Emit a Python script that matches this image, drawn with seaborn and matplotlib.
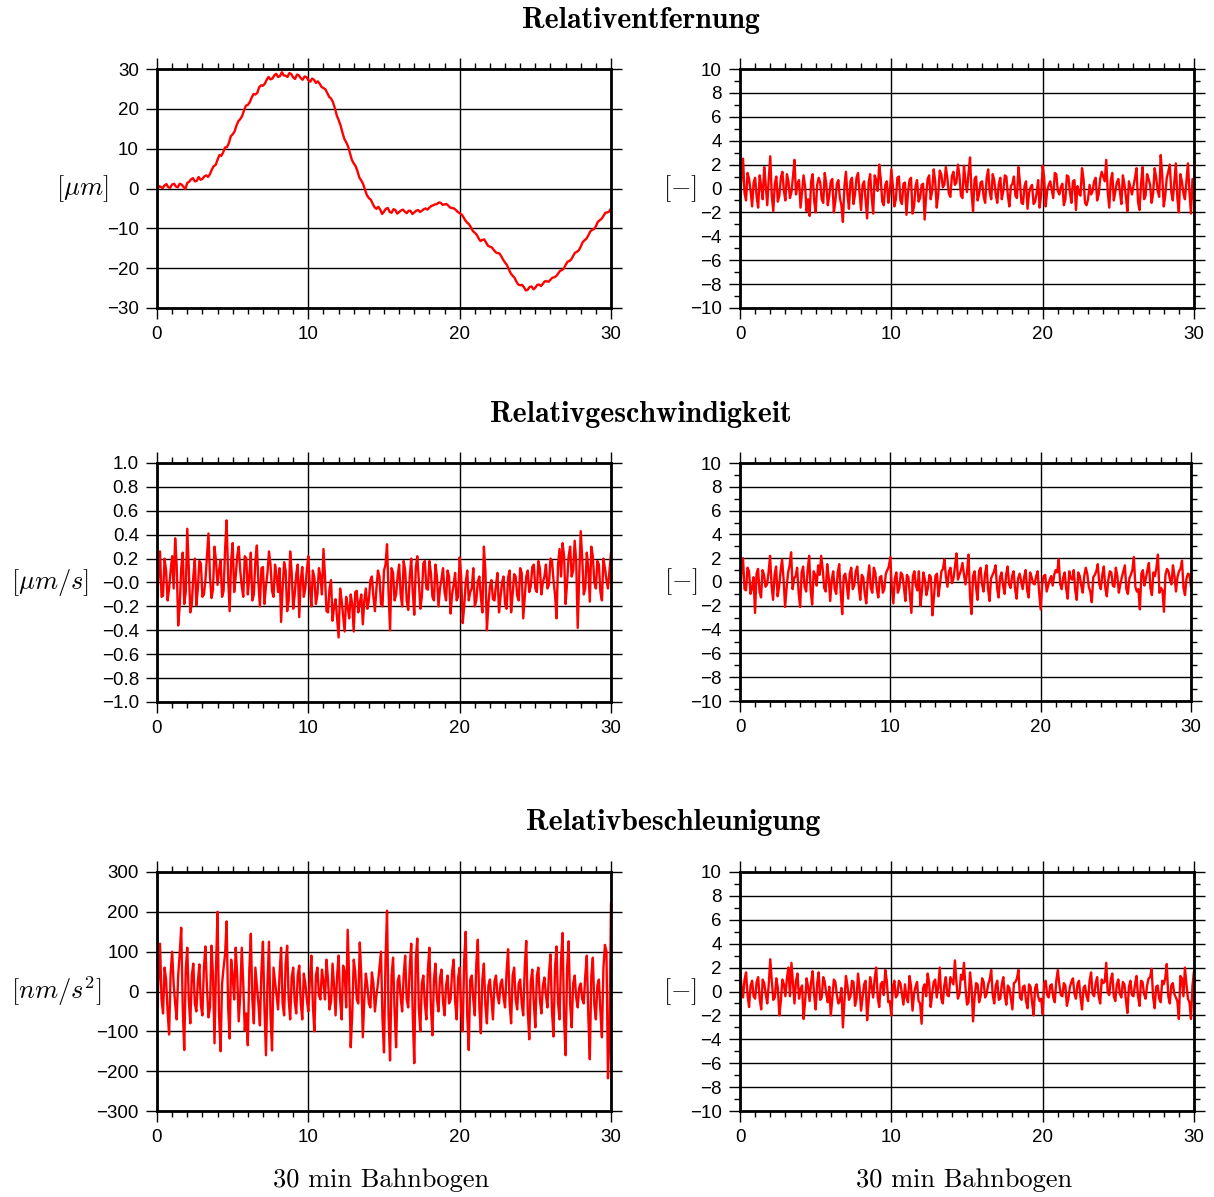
import numpy as np
import matplotlib
matplotlib.use('Agg')
import matplotlib.pyplot as plt
import seaborn as sns
from matplotlib.ticker import FixedLocator, FixedFormatter, MultipleLocator

sns.set_style('white')
plt.rcParams['font.family'] = ['Liberation Sans', 'DejaVu Sans']
plt.rcParams['mathtext.fontset'] = 'cm'
plt.rcParams['text.color'] = 'black'
plt.rcParams['axes.labelcolor'] = 'black'

# ----- data -----
# time axes in minutes of the 30 min arc
t_dist = np.linspace(0, 30, 241)
t_res = np.linspace(0, 30, 301)

# Relativentfernung [um]: samples at 0, 15, 30 s ... and 7.5, 22.5 s ...
dist_um_even = [
    -0.8, 0.4, 0.8, 0.3, 1.0, 0.5, 1.2, 0.4, 1.4, 2.3, 1.8, 2.9, 2.4, 3.3, 3.6, 5.6,
    7.2, 8.2, 10.3, 11.4, 13.6, 15.8, 17.4, 19.6, 21.0, 22.8, 23.6, 25.4, 25.8, 27.3,
    27.4, 28.4, 28.0, 29.2, 28.3, 29.0, 27.9, 28.6, 27.7, 28.1, 27.2, 27.6, 26.5, 26.3,
    25.2, 24.0, 22.6, 20.2, 17.2, 14.1, 11.6, 8.9, 6.3, 4.3, 2.0, -0.4, -2.4, -3.8,
    -5.1, -5.3, -5.8, -4.9, -6.1, -5.4, -5.9, -5.3, -6.2, -5.6, -6.0, -5.4, -5.6, -5.0,
    -4.8, -4.2, -3.9, -3.6, -4.0, -4.3, -4.9, -5.4, -6.2, -7.2, -8.6, -9.8, -11.1,
    -12.5, -12.9, -13.6, -14.6, -15.4, -16.2, -17.0, -18.6, -20.3, -21.9, -23.4, -24.3,
    -24.8, -25.4, -24.6, -24.9, -24.1, -23.9, -23.3, -22.9, -22.3, -21.4, -20.5, -19.2,
    -18.2, -16.9, -15.9, -14.6, -13.0, -11.8, -10.4, -9.5, -8.0, -6.9, -6.0, -5.0,
]
dist_um_odd = [
    0.6, 0.1, 1.1, 0.2, 1.2, 0.3, 1.0, -0.1, 1.7, 2.6,
    1.9, 2.2, 3.0, 2.9, 4.8, 5.9, 8.4, 9.1, 10.4, 13.1,
    14.3, 16.9, 18.2, 20.8, 21.6, 23.7, 24.0, 25.9, 26.3, 28.0,
    27.6, 28.8, 28.2, 28.4, 28.0, 28.7, 27.5, 28.4, 27.3, 28.0,
    26.8, 27.3, 26.9, 25.5, 24.9, 23.0, 21.7, 18.4, 15.9, 12.5,
    10.6, 7.2, 5.6, 2.7, 1.1, -1.7, -2.8, -4.7, -4.6, -6.4,
    -5.1, -5.9, -5.2, -6.3, -5.5, -5.8, -5.6, -6.4, -5.6, -5.9,
    -5.2, -5.3, -4.4, -4.0, -3.5, -4.1, -3.9, -4.8, -5.0, -5.9,
    -6.5, -8.0, -9.0, -10.7, -11.6, -13.2, -12.8, -14.4, -14.8, -16.0,
    -16.3, -17.9, -19.2, -21.3, -22.4, -24.1, -24.2, -25.6, -24.7, -25.3,
    -24.2, -24.5, -23.3, -23.4, -22.4, -22.0, -20.7, -20.1, -18.4, -17.8,
    -16.1, -15.5, -13.5, -12.6, -10.8, -10.2, -8.4, -7.6, -6.1, -5.8,
]

# normierte Residuen Relativentfernung [-]: epochs 0, 12, 24 s ... and 6, 18, 30 s ...
dist_res_even = [
    -0.8, 2.5, -1.0, 0.8, -1.5, 0.9, -1.6, 0.2, 1.8, -1.4, 2.7, -1.9, 1.0, -0.6, 1.4,
    -1.0, 0.6, -0.3, 2.4, 0.4, -1.6, 1.1, -1.9, -2.3, 1.2, -2.0, 0.9, -0.9, 1.3, -1.4,
    0.6, -2.0, 0.4, -0.8, -2.8, 1.4, -1.7, 0.9, -0.5, 1.3, -1.8, 0.6, -2.5, 1.2, -2.1,
    0.7, 2.0, -1.1, 0.3, -1.2, 1.6, -1.5, 0.9, -1.0, 0.4, -2.2, 0.7, -2.1, 0.2, -1.1,
    0.3, -2.6, 0.8, -0.9, 1.6, -1.6, 1.5, 0.1, 1.8, -0.4, 1.0, 0.3, 2.0, -0.6, 1.9,
    -0.3, 2.6, -1.9, 1.0, -0.5, 0.6, -1.2, 1.6, -0.9, 0.7, -1.2, 0.9, -0.2, 1.0, -1.5,
    0.4, -0.6, 1.8, -1.2, 0.2, -1.7, 0.1, -1.3, -0.4, -1.6, 1.9, -1.5, 0.3, -0.1, 1.3,
    -0.2, 0.1, -1.4, 1.1, -0.3, 0.6, -1.8, -0.4, 1.7, -1.2, -0.9, -0.5, 0.6, -1.0, 0.8,
    1.0, 2.4, -1.6, 1.3, -0.3, 0.8, -1.3, 0.4, -1.9, 0.1, 0.2, 1.7, -1.8, 1.8, -0.6,
    0.8, -1.2, 1.7, -0.2, 2.8, -1.5, 0.9, 2.0, -1.0, 2.1, -2.0, 0.6, -0.9, 2.1, -2.1,
    -0.9,
]
dist_res_odd = [
    0.9, -0.4, 1.3, -0.2, 0.5, -0.7, 1.1, -0.9, 0.3, 0.8,
    -0.6, 0.4, -1.1, 0.9, -0.2, 1.2, -0.8, 1.0, -0.5, 0.7,
    -0.3, 0.2, -0.9, 0.6, -1.0, 0.3, 0.5, -1.2, 0.4, -0.6,
    0.8, -1.1, 0.7, -1.4, 0.2, -0.5, 0.6, -1.3, 0.9, -0.4,
    0.3, -1.0, 0.5, -0.7, 1.1, -0.2, 0.8, -1.4, 0.6, -0.3,
    0.2, -0.9, 1.0, -1.3, 0.5, -0.4, 0.9, -1.5, 0.7, -0.8,
    0.4, -0.6, 1.1, -0.2, 0.6, -0.5, 1.2, 0.3, 0.9, -0.7,
    1.4, 0.5, 1.1, -0.8, 0.6, 1.3, -0.4, 0.8, -1.0, 0.5,
    -0.7, 0.9, -0.3, 1.2, -0.5, 0.4, -0.9, 1.1, -0.6, 0.2,
    1.0, -0.8, 0.5, -1.3, 0.6, -0.4, 0.3, -1.1, 0.7, -0.5,
    0.9, -0.2, 0.6, -0.8, 1.2, -0.5, 0.4, -0.9, 1.0, -1.2,
    0.7, 0.2, -0.6, 0.8, -1.4, 0.3, -0.2, 0.9, -0.5, 1.4,
    0.6, -0.3, 0.7, -1.0, 0.5, -0.2, 1.1, -0.7, 0.6, -0.5,
    0.9, -1.1, 0.4, -0.9, 1.2, 0.3, -0.4, 0.9, -0.7, 1.1,
    -0.6, 1.4, -0.3, 0.5, -0.8, 1.2, -0.4, 0.6, -0.3, 0.8,
]

# Relativgeschwindigkeit [um/s]
vel_ums_even = [
    -0.15, 0.26, -0.11, 0.10, -0.05, 0.22, 0.37, -0.36, 0.12, -0.18, 0.45, -0.25, 0.05,
    -0.19, 0.18, -0.12, 0.02, 0.41, -0.13, 0.30, -0.02, 0.19, -0.07, 0.52, -0.24, 0.33,
    0.05, 0.30, -0.03, 0.22, -0.10, 0.25, -0.10, 0.31, -0.20, 0.13, -0.03, 0.26, -0.07,
    0.15, -0.08, -0.33, 0.17, -0.24, 0.26, -0.22, 0.07, -0.29, 0.13, -0.05, 0.22, -0.20,
    0.04, -0.10, 0.05, 0.28, -0.24, -0.05, -0.32, -0.14, -0.46, -0.15, -0.41, -0.20,
    -0.10, -0.41, -0.07, -0.17, -0.35, -0.05, -0.15, 0.05, -0.24, 0.10, -0.18, 0.10,
    0.32, -0.40, 0.08, -0.10, 0.15, -0.20, 0.10, -0.23, 0.20, -0.27, 0.22, -0.22, 0.16,
    -0.05, 0.18, -0.12, 0.15, -0.20, 0.03, -0.08, 0.10, -0.26, -0.02, -0.15, 0.21, -0.34,
    0.00, -0.15, -0.05, -0.20, 0.01, -0.12, 0.30, -0.40, -0.03, -0.14, -0.02, -0.25,
    0.00, -0.18, 0.04, -0.25, 0.07, -0.11, 0.12, -0.30, 0.05, -0.08, 0.13, -0.05, 0.18,
    -0.10, 0.05, -0.05, 0.20, 0.02, -0.30, 0.28, 0.33, -0.18, 0.22, 0.05, 0.35, -0.38,
    0.43, -0.10, 0.25, -0.16, 0.22, -0.05, 0.15, -0.15, 0.12, -0.05, 0.25,
]
vel_ums_odd = [
    0.05, -0.12, 0.20, -0.15, 0.10, -0.05, 0.15, -0.20, 0.25, -0.08,
    0.12, -0.18, 0.20, -0.05, 0.16, -0.10, 0.22, 0.05, -0.06, 0.18,
    0.10, -0.12, 0.28, 0.05, 0.18, -0.08, 0.22, 0.10, -0.12, 0.20,
    0.05, -0.15, 0.18, 0.00, 0.12, -0.18, 0.08, 0.15, -0.12, 0.06,
    0.12, -0.05, 0.10, -0.15, 0.08, -0.10, 0.15, 0.02, -0.12, 0.10,
    -0.05, 0.10, -0.18, 0.12, -0.10, 0.05, -0.25, 0.02, -0.20, -0.30,
    -0.05, -0.28, -0.12, -0.30, -0.18, -0.08, -0.25, -0.10, -0.15, -0.22,
    0.02, -0.12, -0.05, 0.05, -0.20, 0.15, -0.08, 0.12, -0.15, 0.05,
    -0.10, 0.18, -0.15, 0.05, -0.08, 0.12, 0.02, -0.12, 0.18, -0.06,
    0.08, -0.15, 0.05, -0.05, 0.12, -0.15, 0.05, -0.10, 0.08, -0.12,
    0.05, -0.20, 0.10, -0.08, 0.12, -0.15, 0.05, -0.25, 0.10, -0.18,
    0.02, -0.15, 0.08, -0.12, 0.05, -0.22, 0.10, -0.10, 0.05, -0.15,
    0.08, -0.12, 0.10, -0.03, 0.15, -0.08, 0.12, 0.00, 0.15, -0.02,
    0.18, -0.10, 0.15, 0.05, 0.22, 0.00, 0.30, 0.10, 0.18, 0.05,
    0.20, -0.05, 0.12, 0.30, 0.00, 0.18, -0.08, 0.20, 0.02, 0.10,
]

# normierte Residuen Relativgeschwindigkeit [-]
vel_res_even = [
    -0.8, 2.0, -0.7, 0.9, -0.5, -2.6, 1.1, -1.3, 0.6, -0.2, 2.2, -1.5, 1.3, -0.4, 1.9,
    -2.1, 0.8, 2.5, 0.3, 1.2, -2.1, 1.3, -0.8, 2.2, -1.9, 0.6, 1.4, 2.2, -0.5, 1.5,
    -1.6, 0.9, -1.0, 1.5, -2.7, 0.7, -1.4, 1.2, -0.3, 1.3, -1.5, 0.4, -1.8, 1.4, -0.9,
    0.8, -1.3, 0.5, -0.6, 1.0, 2.1, -1.8, 0.8, -0.5, 0.6, -1.6, 0.4, -2.6, 0.9, -0.7,
    -2.0, 0.8, -1.1, 0.6, -2.8, 0.5, -1.2, 0.9, 1.9, -0.4, 1.2, 0.3, 2.4, 0.6, 1.6,
    -0.2, 2.3, -2.7, 0.9, -1.5, 1.2, -0.8, 1.4, -1.6, 0.6, 1.4, -1.3, 0.8, -1.0, 1.3,
    -0.5, 0.9, -1.4, 0.7, -0.6, 1.0, -1.3, 0.4, -0.2, 0.9, -2.3, 0.5, -0.8, 0.2, -0.3,
    1.0, 1.9, -0.6, 0.8, -1.4, 0.3, 1.0, -1.5, 0.5, -0.9, 1.2, -0.4, -1.7, 0.6, 1.5,
    -0.6, 1.3, -1.2, 0.9, -0.3, 1.2, -0.9, 0.4, 1.4, -1.0, 0.6, 2.1, -0.8, -2.3, 1.0,
    0.3, 1.6, -1.1, 0.5, 2.3, -0.5, -2.5, 1.1, 0.2, 1.4, -0.8, 0.9, 1.8, -1.1, 0.7,
    -0.4,
]
vel_res_odd = [
    0.9, -0.6, 1.2, -1.0, 0.4, 0.7, -0.8, 1.0, -0.4, 0.8,
    -0.3, 0.6, -1.2, 0.9, 0.2, -0.5, 1.4, -0.6, 0.5, -0.9,
    0.8, -0.4, 1.0, -0.7, 0.9, -0.3, 0.6, 1.1, -0.8, 0.4,
    0.2, -0.6, 0.8, -0.9, 0.5, -0.2, 0.7, -0.6, 0.9, -0.4,
    0.6, -1.0, 0.3, -0.5, 1.2, -0.6, 0.4, -0.9, 0.7, 1.3,
    -0.5, 0.3, -0.9, 0.8, -0.4, 0.6, -1.1, 0.5, -0.3, 0.9,
    -0.8, 0.2, -0.5, 0.4, -1.3, 0.7, -0.2, 1.1, 0.4, 0.9,
    -0.1, 1.3, 0.2, 1.0, 0.6, 0.8, -1.2, 0.5, -0.4, 0.9,
    -0.2, 0.7, -0.6, 0.3, 0.9, -0.5, 0.4, -0.3, 0.6, -0.2,
    0.5, -0.6, 0.3, 0.1, 0.4, -0.7, 0.8, -0.1, 0.5, -0.9,
    -0.2, 0.6, -0.3, 0.5, 0.6, 0.8, -0.2, 0.4, -0.6, 0.9,
    0.2, -0.7, 0.8, -0.3, 0.5, 0.7, -0.8, 0.4, 0.9, -0.2,
    0.6, -0.5, 0.2, 0.8, -0.4, 0.5, -0.2, 0.9, -0.6, 0.3,
    1.0, -0.4, -0.6, 0.7, -0.3, 1.0, -0.5, 0.8, 1.2, -0.9,
    -0.7, 0.6, 0.9, -0.2, 0.5, 0.4, 1.1, -0.5, 0.3, 0.6,
]

# Relativbeschleunigung [nm/s^2]
acc_nms2_even = [
    -50, 120, -55, 30, -108, 100, -30, 40, 160, -147, 110, -80, 70, -50, 68, -60, 113,
    -65, 115, -130, 200, -150, 60, 176, -118, 40, 110, -75, 110, -98, -135, 145, -80,
    15, -85, 125, -160, 125, -148, 25, -45, 110, -60, 115, -70, 60, -55, 65, -70, 20,
    -50, 90, -100, 60, -20, 25, 80, -45, 70, -60, 90, -70, 50, 155, -140, 80, -20, 123,
    -115, 45, -30, 48, -50, 20, 100, -153, 203, -173, 85, -140, 40, -50, 90, -40, 120,
    -180, 133, -100, 40, -70, 110, -110, 70, -50, 55, -60, 40, -20, 80, -70, 60, -100,
    150, -147, 40, -60, 130, -105, 70, -80, 30, -70, 40, -30, 30, -40, 106, -80, 60,
    -45, 30, -60, 127, -120, 55, -90, 60, -55, 35, -40, 93, -113, 113, -70, 147, -160,
    126, -90, 40, -40, 20, -30, 90, -170, 85, -70, 30, -115, 117, -218, 223,
]
acc_nms2_odd = [
    30, -20, 60, -50, 45, 20, -70, 95, -40, 55,
    -20, 40, -30, 25, -35, 60, 10, -40, 40, 60,
    -60, 20, 95, -40, 80, -20, 40, -10, 20, -55,
    55, -20, 60, -30, 50, -40, 20, -60, 60, -10,
    45, -30, 70, -20, 35, -25, 40, -30, 45, -20,
    30, -35, 40, -10, 55, -20, 30, -25, 15, 40,
    -20, 65, -40, 30, -60, 50, -30, 40, -20, 15,
    -40, 20, -10, 60, -70, 80, -60, 40, -50, 25,
    -15, 40, -20, 60, -60, 80, -40, 20, -30, 55,
    -40, 30, -20, 35, -25, 15, -30, 50, -25, 35,
    -50, 80, -60, 30, -20, 70, -40, 30, -35, 15,
    -20, 25, -10, 20, -15, 50, -30, 40, -20, 20,
    -30, 60, -50, 25, -30, 40, -20, 15, -10, 45,
    -50, 60, -30, 80, -70, 60, -30, 20, -15, 10,
    -20, 40, -60, 40, -35, 15, -50, 60, 100, -100,
]

# normierte Residuen Relativbeschleunigung [-]
acc_res_even = [
    1.8, -0.5, 1.6, -1.3, 0.9, -0.6, 1.2, -1.5, 0.7, -1.0, 2.7, -0.7, 1.1, -2.0, 1.0,
    -0.4, 2.0, 2.4, -1.0, 1.5, 0.2, -2.3, 1.1, -0.8, 1.7, -1.5, 1.6, -0.5, 0.8, -0.9,
    -2.0, 1.0, -0.3, -0.8, -3.0, 1.3, -0.7, 0.9, -1.2, 1.5, -1.6, 0.6, -2.4, 1.2, -0.5,
    2.0, -1.3, 0.8, 1.8, -0.9, -2.0, 0.9, -0.3, 0.7, -1.1, -0.5, 1.3, -1.6, 0.4, -0.8,
    -2.7, 0.6, 1.5, -1.3, 0.8, -0.5, 2.0, -1.0, 1.2, -0.4, 0.9, 2.6, -0.6, 1.4, 2.4,
    -1.1, 1.6, -2.5, 0.7, -0.9, 1.1, -0.5, 0.6, 1.8, -1.0, 0.9, -0.6, 1.2, -1.1, 0.3,
    -1.5, 0.8, 1.8, -0.7, 0.5, -1.4, 0.4, -2.0, 0.6, -0.8, -1.9, 0.9, -0.5, 0.6, -0.9,
    1.8, -0.3, 0.7, -1.2, 0.4, 1.1, -0.6, 0.9, -1.5, 0.5, -0.8, 1.6, -0.4, 1.2, -1.0,
    0.7, 2.4, -0.3, 1.5, -0.8, 1.0, -0.5, 0.6, -1.8, 0.9, -0.4, 1.3, -1.2, 0.8, -0.6,
    1.1, 1.9, -1.4, 0.5, -0.9, 0.6, 2.3, -1.0, 0.7, -0.5, -2.3, 1.1, 2.0, -0.6, -2.3,
    1.7,
]
acc_res_odd = [
    0.4, 1.0, -0.3, 0.5, -0.4, 0.8, -0.6, 1.0, -0.2, 0.6,
    0.9, -0.5, 0.3, -0.8, 0.6, 1.1, -0.4, 0.7, 0.9, -0.6,
    0.5, -0.9, 0.4, 0.8, -0.3, 0.7, -0.7, 1.2, -0.2, 0.4,
    -0.6, 0.8, -1.0, 0.3, -0.9, 0.5, -0.4, 0.8, -0.6, 0.3,
    -0.5, 0.9, -0.8, 0.4, 1.1, -0.5, 0.6, -0.3, 0.9, -0.8,
    0.4, -0.5, 0.9, -0.2, 0.6, -0.9, 0.5, -0.2, 0.8, -1.0,
    0.3, -0.4, 0.7, -0.2, 1.0, 0.4, -0.6, 0.5, -0.3, 1.2,
    0.6, 0.8, -0.2, 1.0, 0.3, -0.9, 0.4, -0.5, 0.6, -0.4,
    0.8, -0.2, 1.0, -0.3, 0.5, -0.7, 0.6, -0.4, 0.5, -0.6,
    0.7, 1.1, -0.5, 0.4, -0.8, 0.6, -0.9, 0.3, -0.4, -0.6,
    0.7, -0.3, 0.5, -0.5, 0.9, 0.6, -0.4, 0.5, -0.6, 0.8,
    -0.2, 0.6, -0.5, 0.3, -0.4, 0.9, -0.2, 0.7, -0.4, 1.0,
    0.8, -0.1, 1.0, -0.4, 0.6, -0.2, 0.8, -0.7, 0.4, -0.3,
    0.6, -0.4, 0.9, -0.2, 0.5, 1.2, -0.5, 0.4, -0.6, 0.9,
    1.1, -0.4, 0.5, -0.2, -0.8, 1.3, -0.4, 0.6, -0.9, 0.5,
]

x_ticks = [0, 10, 20, 30]
x_ticklabels = ['0', '10', '20', '30']
dist_ticks = [-30, -20, -10, 0, 10, 20, 30]
dist_ticklabels = ['\u221230', '\u221220', '\u221210', '0', '10', '20', '30']
vel_ticks = [-1.0, -0.8, -0.6, -0.4, -0.2, 0.0, 0.2, 0.4, 0.6, 0.8, 1.0]
vel_ticklabels = ['\u22121.0', '\u22120.8', '\u22120.6', '\u22120.4', '\u22120.2', '\u22120.0',
                  '0.2', '0.4', '0.6', '0.8', '1.0']
acc_ticks = [-300, -200, -100, 0, 100, 200, 300]
acc_ticklabels = ['\u2212300', '\u2212200', '\u2212100', '0', '100', '200', '300']
res_ticks = [-10, -8, -6, -4, -2, 0, 2, 4, 6, 8, 10]
res_ticklabels = ['\u221210', '\u22128', '\u22126', '\u22124', '\u22122', '0', '2', '4', '6', '8', '10']

titles = ['Relativentfernung', 'Relativgeschwindigkeit', 'Relativbeschleunigung']
xlabel = '30 min Bahnbogen'


def merge(even, odd):
    # interleave the two sample phases into one series
    y = np.empty(len(even) + len(odd))
    y[0::2] = even
    y[1::2] = odd
    return y


# ----- figure -----
W, H = 1214, 1197
fig = plt.figure(figsize=(W / 100, H / 100), dpi=100)


def panel(box, t, y, ylim, yticks, yticklabels, ylabel, label_x, yminor=None):
    x0, x1, ytop, ybot = box
    ax = fig.add_axes([x0 / W, 1 - ybot / H, (x1 - x0) / W, (ybot - ytop) / H])
    sns.lineplot(x=t, y=y, ax=ax, color='red', linewidth=1.7, legend=False)
    ax.set_xlim(0, 30)
    ax.set_ylim(ylim)
    ax.xaxis.set_major_locator(FixedLocator(x_ticks))
    ax.xaxis.set_major_formatter(FixedFormatter(x_ticklabels))
    ax.xaxis.set_minor_locator(MultipleLocator(1))
    ax.yaxis.set_major_locator(FixedLocator(yticks))
    ax.yaxis.set_major_formatter(FixedFormatter(yticklabels))
    if yminor:
        ax.yaxis.set_minor_locator(MultipleLocator(yminor))
    ax.tick_params(which='both', direction='out', top=True, right=True,
                   bottom=True, left=True, colors='black', width=1.0, labelsize=13.5)
    ax.tick_params(which='major', length=8, pad=5)
    ax.tick_params(which='minor', length=4)
    ax.grid(which='major', color='black', linewidth=1.0)
    for s in ax.spines.values():
        s.set_linewidth(2.0)
        s.set_color('black')
        s.set_zorder(5)
    ax.set_xlabel('')
    ax.set_ylabel(ylabel, fontsize=19, rotation=0, va='center', ha='center')
    ax.yaxis.set_label_coords(label_x, 0.5)
    return ax


panel((157, 611, 69, 308), t_dist, merge(dist_um_even, dist_um_odd), (-30, 30),
      dist_ticks, dist_ticklabels, r'$[\mu m]$', -0.165)
panel((740, 1194, 69, 308), t_res, merge(dist_res_even, dist_res_odd), (-10, 10),
      res_ticks, res_ticklabels, r'$[-]$', -0.132, yminor=1)
panel((157, 611, 463, 702), t_res, merge(vel_ums_even, vel_ums_odd), (-1, 1),
      vel_ticks, vel_ticklabels, r'$[\mu m/s]$', -0.236)
panel((740, 1191, 463, 701), t_res, merge(vel_res_even, vel_res_odd), (-10, 10),
      res_ticks, res_ticklabels, r'$[-]$', -0.132, yminor=1)
panel((157, 611, 872, 1111), t_res, merge(acc_nms2_even, acc_nms2_odd), (-300, 300),
      acc_ticks, acc_ticklabels, r'$[nm/s^2]$', -0.222)
panel((740, 1194, 872, 1111), t_res, merge(acc_res_even, acc_res_odd), (-10, 10),
      res_ticks, res_ticklabels, r'$[-]$', -0.132, yminor=1)

# row titles and x labels
for title, (cx, cy) in zip(titles, [(641, 20), (641, 415), (673, 823)]):
    fig.text(cx / W, 1 - cy / H, title, fontfamily='cmb10', fontsize=21.5,
             ha='center', va='center')
for cx in [381, 964]:
    fig.text(cx / W, 1 - 1180 / H, xlabel, fontfamily='cmr10', fontsize=19,
             ha='center', va='center')

fig.savefig('out.png', dpi=100)
